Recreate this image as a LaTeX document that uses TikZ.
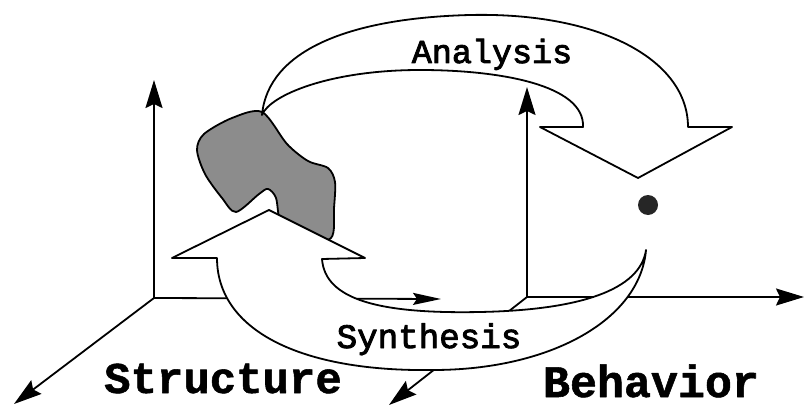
\documentclass[tikz,border=0pt]{standalone}
\usepackage{fontspec}
\newfontfamily\labfont[FakeBold=2.6]{Liberation Mono}
\newfontfamily\boldlabfont[FakeBold=1.2]{Liberation Mono Bold}
\usetikzlibrary{arrows.meta}
\begin{document}
\begin{tikzpicture}[x=1pt,y=-1pt,line width=1.8pt,line join=round,
  axis/.style={-{Stealth[length=28pt,width=17pt,inset=4pt]}},
  thinaxis/.style={-{Stealth[length=28pt,width=12pt,inset=4pt]}},
  band/.style={draw=black,fill=white},
  blobstyle/.style={draw=black,fill=black!45},
  lbl/.style={anchor=base,inner sep=0pt}]
\useasboundingbox (0,0) rectangle (805,406);
\fill[white] (0,0) rectangle (805,406);
% axes coordinates
\coordinate (So) at (154,298);
\coordinate (Sup) at (154,80);
\coordinate (Sright) at (441,299);
\coordinate (Sdiag) at (14,404);
\coordinate (Bo) at (527,297);
\coordinate (Bup) at (527,87);
\coordinate (Bright) at (804,297);
\coordinate (Bdiag) at (389,405);
% axes
\draw[axis] (So) -- (Sup);
\draw[thinaxis] (So) -- (Sright);
\draw[axis] (So) -- (Sdiag);
\draw[axis] (Bo) -- (Bup);
\draw[axis] (Bo) -- (Bright);
\draw[axis] (Bo) -- (Bdiag);
% blob
\draw[blobstyle] plot[smooth cycle,tension=0.5] coordinates {
  (262,112) (287,144) (308,161) (328,168) (335,182) (334,208) (331,238)
  (300,242) (281,224) (276,198) (268,189) (259,194) (236,212) (222,198)
  (205,174) (197,150) (204,134) (232,118)};
% synthesis band
\draw[band] (269,210) -- (365,258) -- (322,259)
  .. controls (325,300) and (380,314) .. (480,312)
  .. controls (580,310) and (640,290) .. (646,250)
  .. controls (640,320) and (550,370) .. (433,370)
  .. controls (300,372) and (217,330) .. (217,258)
  -- (172,258) -- cycle;
% analysis band
\draw[band] (262,115)
  .. controls (268,50) and (350,18) .. (470,15)
  .. controls (600,12) and (688,60) .. (688,127)
  -- (732,127) -- (638,178) -- (540,127) -- (583,127)
  .. controls (585,85) and (500,70) .. (420,70)
  .. controls (330,70) and (270,95) .. (262,115) -- cycle;
% dot
\fill[black!85] (648,205) circle (10);
% labels
\node[lbl,font=\labfont\fontsize{33.4}{36}\selectfont] (an) at (492,63) {Analysis};
\node[lbl,font=\labfont\fontsize{34.2}{36}\selectfont] (sy) at (429,348) {Synthesis};
\node[lbl,font=\boldlabfont\fontsize{44}{46}\selectfont] (st) at (223,393) {Structure};
\node[lbl,font=\boldlabfont\fontsize{45}{47}\selectfont] (be) at (651,397) {Behavior};
\end{tikzpicture}
\end{document}
